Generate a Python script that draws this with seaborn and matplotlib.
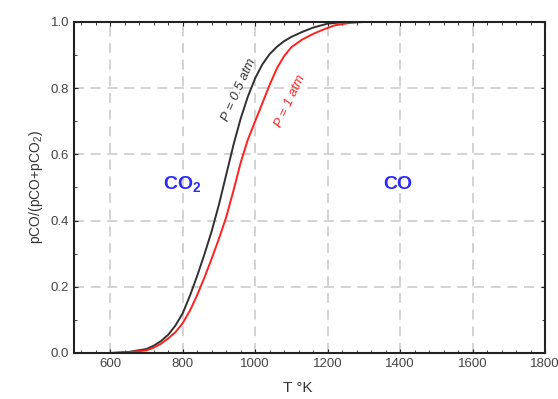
import matplotlib
matplotlib.use("Agg")
import matplotlib.pyplot as plt
import seaborn as sns
import pandas as pd
from matplotlib.ticker import MultipleLocator

# curva P = 0.5 atm (preta)
t_05 = [600, 650, 700, 720, 740, 760, 780, 800, 820, 840, 860, 880, 900, 920,
        940, 960, 980, 1000, 1020, 1040, 1060, 1080, 1100, 1130, 1160, 1200,
        1250, 1450]
r_05 = [0.0, 0.003, 0.012, 0.022, 0.036, 0.055, 0.083, 0.12, 0.173, 0.233,
        0.298, 0.368, 0.448, 0.538, 0.628, 0.708, 0.775, 0.83, 0.872, 0.903,
        0.925, 0.942, 0.955, 0.97, 0.983, 0.995, 1.0, 1.0]

# curva P = 1 atm (vermelha)
t_1 = [500, 600, 650, 700, 720, 740, 760, 780, 800, 820, 840, 860, 880, 900,
       920, 940, 960, 980, 1000, 1020, 1040, 1060, 1080, 1100, 1130, 1160,
       1190, 1220, 1260, 1300, 1800]
r_1 = [0.0, 0.0, 0.002, 0.008, 0.016, 0.028, 0.044, 0.063, 0.09, 0.128, 0.175,
       0.228, 0.285, 0.345, 0.41, 0.49, 0.575, 0.645, 0.70, 0.755, 0.81, 0.86,
       0.897, 0.924, 0.947, 0.964, 0.978, 0.99, 0.997, 1.0, 1.0]

x_ticks = [600, 800, 1000, 1200, 1400, 1600, 1800]
y_ticks = [0.0, 0.2, 0.4, 0.6, 0.8, 1.0]

df = pd.concat([
    pd.DataFrame({"T": t_05, "r": r_05, "P": "0.5"}),
    pd.DataFrame({"T": t_1, "r": r_1, "P": "1"}),
])

sns.set_style("ticks")
plt.rcParams['font.family'] = ['Liberation Sans', 'DejaVu Sans']
plt.rcParams['mathtext.fontset'] = 'custom'
plt.rcParams['mathtext.rm'] = 'Liberation Sans'
plt.rcParams['mathtext.it'] = 'Liberation Sans:italic'
plt.rcParams['mathtext.bf'] = 'Liberation Sans:bold'

fig = plt.figure(figsize=(5.58, 3.99), dpi=100)
ax = fig.add_axes([0.1326, 0.1153, 0.8441, 0.8296])

sns.lineplot(data=df, x="T", y="r", hue="P", palette={"0.5": "#303030", "1": "#ff2020"},
             linewidth=1.4, legend=False, ax=ax, sort=False)

ax.set_xlim(500, 1800)
ax.set_ylim(0, 1)
ax.set_xticks(x_ticks)
ax.set_yticks(y_ticks)
ax.set_yticklabels([f"{v:.1f}" for v in y_ticks])
ax.xaxis.set_minor_locator(MultipleLocator(40))
ax.yaxis.set_minor_locator(MultipleLocator(0.1))
ax.tick_params(which="both", direction="in", top=True, right=True, colors="#222222",
               labelcolor="#444444", labelsize=9.5)
ax.tick_params(which="major", length=3)
ax.tick_params(which="minor", length=2)
ax.grid(True, which="major", color="#cccccc", linestyle=(0, (6, 4)), linewidth=1.2)
for s in ax.spines.values():
    s.set_linewidth(1.5)
    s.set_color("#222222")

ax.set_xlabel("T °K", fontsize=11, color="#333333", labelpad=0)
ax.xaxis.set_label_coords(0.475, -0.085)
ax.set_ylabel("pCO/(pCO+pCO$_2$)", fontsize=10, color="#333333")

ax.text(954, 0.795, "P = 0.5 atm", rotation=66, color="#333333", fontsize=9.5,
        style="italic", ha="center", va="center")
ax.text(1098, 0.761, "P = 1 atm", rotation=65, color="#ff2020", fontsize=9.5,
        style="italic", ha="center", va="center")
ax.text(800, 0.51, r"$\mathbf{CO_2}$", color="#2a2aff", fontsize=14,
        ha="center", va="center")
ax.text(1395, 0.51, "CO", color="#2a2aff", fontsize=14, fontweight="bold",
        ha="center", va="center")

fig.savefig("out.png", dpi=100)
